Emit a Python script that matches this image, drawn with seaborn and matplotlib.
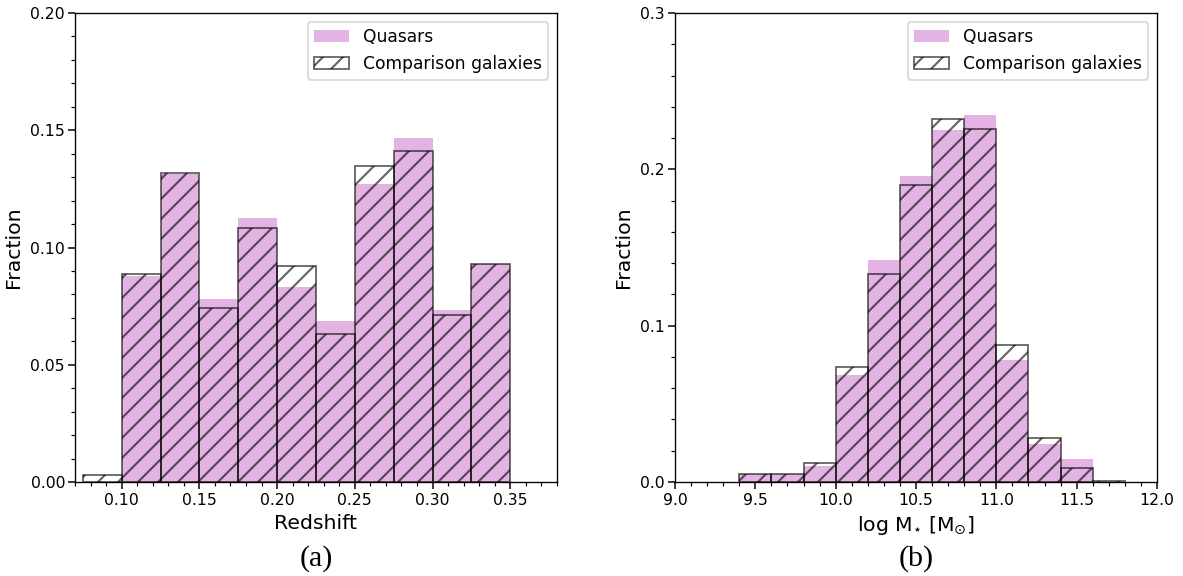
import numpy as np
import matplotlib
matplotlib.use("Agg")
import matplotlib.pyplot as plt
from matplotlib.ticker import MultipleLocator
import seaborn as sns

# ---- data ----
z_edges = [0.075, 0.100, 0.125, 0.150, 0.175, 0.200, 0.225, 0.250, 0.275, 0.300, 0.325, 0.350]
z_quasars = [0.0, 0.0879, 0.1315, 0.0782, 0.1126, 0.0833, 0.0687, 0.1272, 0.1467, 0.0735, 0.0930]
z_comparison = [0.0031, 0.0886, 0.1319, 0.0741, 0.1085, 0.0920, 0.0631, 0.1348, 0.1412, 0.0712, 0.0930]

m_edges = [9.4, 9.6, 9.8, 10.0, 10.2, 10.4, 10.6, 10.8, 11.0, 11.2, 11.4, 11.6, 11.8]
m_quasars = [0.0050, 0.0050, 0.0100, 0.0687, 0.1419, 0.1957, 0.2250, 0.2350, 0.0783, 0.0245, 0.0147, 0.0]
m_comparison = [0.0049, 0.0049, 0.0122, 0.0734, 0.1330, 0.1902, 0.2320, 0.2260, 0.0877, 0.0282, 0.0088, 0.0005]

labels = ["Quasars", "Comparison galaxies"]
panel_tags = ["(a)", "(b)"]

DPI = 120
plt.rcParams.update({
    "font.family": ["DejaVu Sans"],
    "hatch.linewidth": 1.3,
    "axes.linewidth": 0.8,
    "xtick.direction": "out",
    "ytick.direction": "out",
    "xtick.major.size": 4.2,
    "ytick.major.size": 4.2,
    "xtick.minor.size": 2.5,
    "ytick.minor.size": 2.5,
    "xtick.major.width": 0.9,
    "ytick.major.width": 0.9,
    "xtick.minor.width": 0.7,
    "ytick.minor.width": 0.7,
    "xtick.major.pad": 2.2,
    "ytick.major.pad": 1.8,
    "xtick.labelsize": 9.4,
    "ytick.labelsize": 9.4,
    "legend.fontsize": 10.3,
})

fig = plt.figure(figsize=(1183 / DPI, 576 / DPI), dpi=DPI)
ax1 = fig.add_axes([0.0634, 0.1632, 0.4074, 0.8142])
ax2 = fig.add_axes([0.5706, 0.1632, 0.4074, 0.8142])

def centers(edges):
    e = np.asarray(edges)
    return (e[:-1] + e[1:]) / 2

def draw(ax, edges, q, c):
    sns.histplot(x=centers(edges), weights=q, bins=edges, ax=ax, stat="count",
                 color="plum", alpha=0.8, linewidth=0, label=labels[0])
    sns.histplot(x=centers(edges), weights=c, bins=edges, ax=ax, stat="count",
                 fill=False, color="black", alpha=0.6, linewidth=1.1,
                 hatch="//", label=labels[1])
    ax.legend(loc="upper right")
    ax.set_ylabel("Fraction", fontsize=12.2)

draw(ax1, z_edges, z_quasars, z_comparison)
ax1.set_xlim(0.07, 0.38)
ax1.set_ylim(0, 0.20)
ax1.xaxis.set_minor_locator(MultipleLocator(0.01))
ax1.yaxis.set_minor_locator(MultipleLocator(0.01))
ax1.set_xticks([0.10, 0.15, 0.20, 0.25, 0.30, 0.35])
ax1.set_yticks([0.00, 0.05, 0.10, 0.15, 0.20])
ax1.set_yticklabels(["0.00", "0.05", "0.10", "0.15", "0.20"])
ax1.set_xticklabels(["0.10", "0.15", "0.20", "0.25", "0.30", "0.35"])
ax1.set_xlabel("Redshift", fontsize=12.2)

draw(ax2, m_edges, m_quasars, m_comparison)
ax2.set_xlim(9.0, 12.0)
ax2.set_ylim(0, 0.3)
ax2.xaxis.set_major_locator(MultipleLocator(0.5))
ax2.xaxis.set_minor_locator(MultipleLocator(0.1))
ax2.yaxis.set_major_locator(MultipleLocator(0.1))
ax2.yaxis.set_minor_locator(MultipleLocator(0.02))
ax2.set_xlabel(r"log M$_{\star}$ [M$_{\odot}$]", fontsize=12.2)

for ax, tag in zip([ax1, ax2], panel_tags):
    pos = ax.get_position()
    fig.text((pos.x0 + pos.x1) / 2, 0.031, tag, ha="center", va="center",
             fontsize=18, family=["Liberation Serif", "DejaVu Serif"])

fig.savefig("out.png", dpi=DPI)
